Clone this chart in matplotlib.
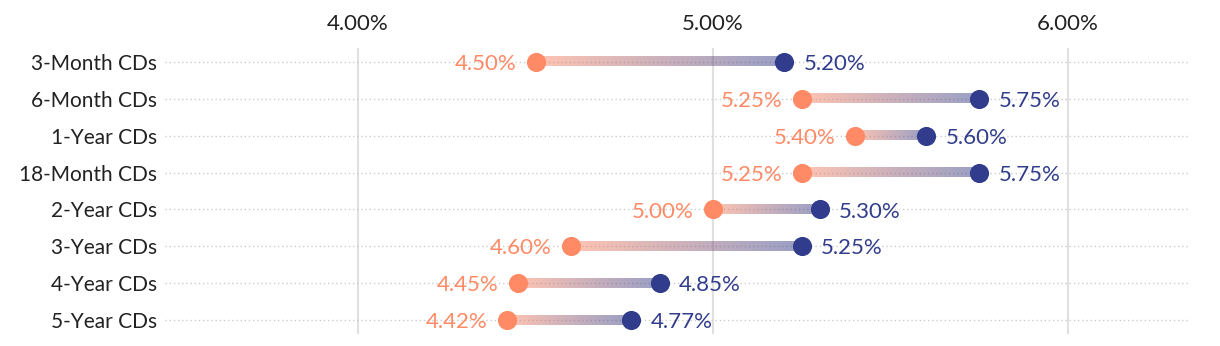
import matplotlib
matplotlib.use("Agg")
import matplotlib.pyplot as plt
import numpy as np
from matplotlib.colors import to_rgb

plt.rcParams['font.family'] = ['Lato', 'DejaVu Sans']

categories = ["3-Month CDs", "6-Month CDs", "1-Year CDs", "18-Month CDs",
              "2-Year CDs", "3-Year CDs", "4-Year CDs", "5-Year CDs"]
low_rates = [4.50, 5.25, 5.40, 5.25, 5.00, 4.60, 4.45, 4.42]
high_rates = [5.20, 5.75, 5.60, 5.75, 5.30, 5.25, 4.85, 4.77]
xticks = [4.0, 5.0, 6.0]
xtick_labels = ["4.00%", "5.00%", "6.00%"]

orange = "#FF8A65"
navy = "#313D8C"

fig = plt.figure(figsize=(12.2, 3.46), dpi=100)
ax = fig.add_axes([165/1220, 1 - 334/346, (1188-165)/1220, (334-48)/346])

xlim = (3.456, 6.338)
ylim = (len(categories) - 1 + 0.375, -0.375)

for xv in xticks:
    ax.axvline(xv, color="#e0e0e0", lw=1.5, zorder=0)
for i in range(len(categories)):
    ax.axhline(i, color="#cccccc", lw=1.0, ls=(0, (1, 2)), zorder=0)

c0 = np.array(to_rgb(orange))
c1 = np.array(to_rgb(navy))
n = 256
t = np.linspace(0, 1, n)[:, None]
grad = np.concatenate([c0 * (1 - t) + c1 * t, np.full((n, 1), 0.5)], axis=1)[None, :, :]
h = 0.125
for i, (a, b) in enumerate(zip(low_rates, high_rates)):
    ax.imshow(grad, extent=[a, b, i + h, i - h], aspect='auto',
              interpolation='bilinear', zorder=2)

y = np.arange(len(categories))
ax.scatter(low_rates, y, s=190, color=orange, zorder=3, linewidths=0)
ax.scatter(high_rates, y, s=190, color=navy, zorder=3, linewidths=0)

for i, (a, b) in enumerate(zip(low_rates, high_rates)):
    ax.annotate(f"{a:.2f}%", (a, i), xytext=(-14, -1.5), textcoords="offset points",
                ha="right", va="center", color=orange, fontsize=16)
    ax.annotate(f"{b:.2f}%", (b, i), xytext=(14, -1.5), textcoords="offset points",
                ha="left", va="center", color=navy, fontsize=16)

ax.set_xlim(*xlim)
ax.set_ylim(*ylim)
ax.set_yticks(y)
ax.set_yticklabels(categories, fontsize=15, color="#222222")
ax.set_xticks(xticks)
ax.set_xticklabels(xtick_labels, fontsize=16, color="#222222")
ax.xaxis.tick_top()
ax.tick_params(axis='both', length=0)
ax.tick_params(axis='x', pad=10)
ax.tick_params(axis='y', pad=6)
for s in ax.spines.values():
    s.set_visible(False)

fig.savefig("out.png", dpi=100, facecolor="white")
